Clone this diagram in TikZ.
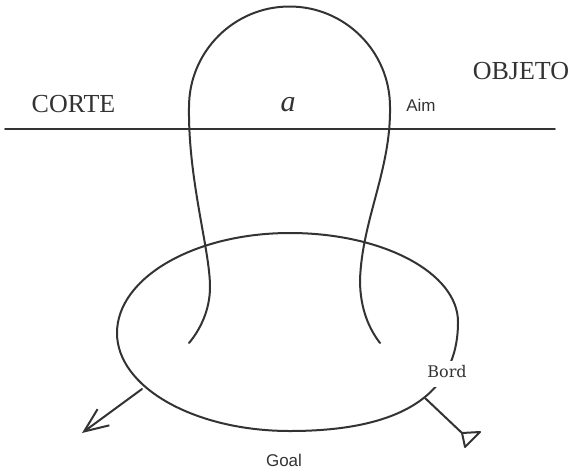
\documentclass[tikz,border=0pt]{standalone}
\usepackage{fontspec}
\setmainfont{Liberation Serif}
\newfontfamily\lsans{Liberation Sans}
\newfontfamily\dserif{DejaVu Serif}
\usetikzlibrary{arrows.meta}
\definecolor{ink}{gray}{0.2}
\begin{document}
\begin{tikzpicture}[x=1pt,y=-1pt,
  curve/.style={draw=ink, line width=2pt, line cap=round, line join=round},
  bigtxt/.style={text=ink, inner sep=0pt, font=\fontsize{26}{30}\selectfont},
  smalltxt/.style={text=ink, inner sep=0pt, font=\lsans\fontsize{17}{20}\selectfont}]
\useasboundingbox (0,0) rectangle (572,472);
% cut line
\coordinate (cl) at (5,129);
\coordinate (cr) at (555,129);
\draw[curve, line width=1.8pt] (cl) -- (cr);
% loop
\draw[curve] (189,343) .. controls (200,330) and (210,310) .. (210,287)
  .. controls (210,250) and (188,180) .. (189,107)
  arc[start angle=180, end angle=0, radius=100.5pt]
  .. controls (391,170) and (362,220) .. (360,280)
  .. controls (360,310) and (370,330) .. (380,343);
% ellipse
\draw[curve] (458,322) .. controls (458,273) and (383,233) .. (290,233)
  .. controls (194,233) and (117,278) .. (117,333)
  .. controls (117,387) and (194,431) .. (290,431)
  .. controls (405,431) and (458,392) .. (458,322) -- cycle;
% gap in the ellipse round the label
\fill[white] (424,361) rectangle (472,387);
% labels
\node[bigtxt] (corte) at (73.5,104) {CORTE};
\node[bigtxt] (objeto) at (521,71) {OBJETO};
\node[text=ink, inner sep=0pt, font=\itshape\fontsize{30}{34}\selectfont] (a) at (288,104.5) {a};
\node[smalltxt] (aim) at (421,105.5) {Aim};
\node[text=ink, inner sep=0pt, font=\dserif\fontsize{16}{19}\selectfont] (bord) at (447,371.5) {Bord};
\node[smalltxt] (goal) at (284,460.5) {Goal};
% junctions
\coordinate (j1) at (142,389);
\coordinate (tip1) at (82,433);
\coordinate (j2) at (425,398);
\coordinate (t2) at (462,433);
\draw[curve, -{Straight Barb[length=24pt,width=20pt,line width=2pt]}] (j1) -- (tip1);
\draw[curve] (j2) -- (t2);
\draw[curve] (t2) -- (480,432) -- (465,447) -- cycle;
\end{tikzpicture}
\end{document}
